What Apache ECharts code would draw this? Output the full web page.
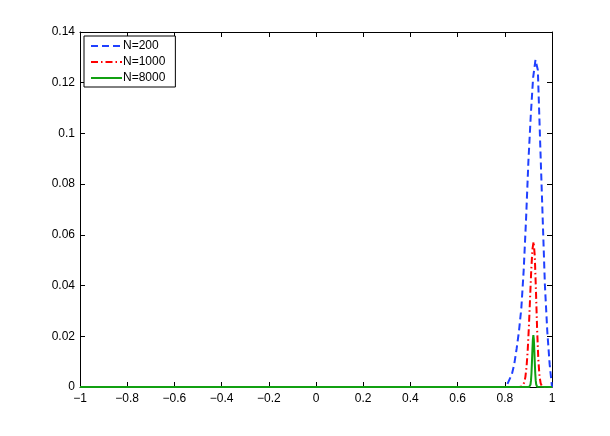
<!DOCTYPE html>
<html>
<head>
<meta charset="utf-8">
<script src="https://cdn.jsdelivr.net/npm/echarts@6/dist/echarts.min.js"></script>
<style>html,body{margin:0;padding:0;background:#fff}#c{width:610px;height:436px}</style>
</head>
<body>
<div id="c"></div>
<script>
const seriesNames = ['N=200', 'N=1000', 'N=8000'];
const xTicks = [-1, -0.8, -0.6, -0.4, -0.2, 0, 0.2, 0.4, 0.6, 0.8, 1];
const yTicks = [0, 0.02, 0.04, 0.06, 0.08, 0.1, 0.12, 0.14];

const blueX = [-1, 0.80, 0.81, 0.82, 0.83, 0.84, 0.85, 0.86, 0.87, 0.88, 0.89, 0.90, 0.91, 0.92, 0.93, 0.94, 0.95, 0.96, 0.97, 0.98, 0.99, 1.00];
const blueY = [0, 0.000, 0.001, 0.003, 0.005, 0.009, 0.015, 0.022, 0.031, 0.046, 0.066, 0.089, 0.107, 0.122, 0.129, 0.125, 0.096, 0.068, 0.040, 0.022, 0.009, 0.000];

const redX = [-1, 0.862, 0.867, 0.872, 0.877, 0.882, 0.887, 0.892, 0.897, 0.902, 0.907, 0.912, 0.917, 0.922, 0.927, 0.932, 0.937, 0.942, 0.947, 0.952, 0.957, 0.962, 0.967, 1];
const redY = [0, 0, 0.0001, 0.0002, 0.0006, 0.0017, 0.0038, 0.0078, 0.0143, 0.0236, 0.0348, 0.0459, 0.0542, 0.0573, 0.0517, 0.0379, 0.0226, 0.0110, 0.0043, 0.0014, 0.0004, 0.0001, 0, 0];

const greenX = [-1, 0.903, 0.905, 0.907, 0.909, 0.911, 0.913, 0.915, 0.917, 0.919, 0.921, 0.923, 0.925, 0.927, 0.929, 0.931, 0.933, 0.935, 0.937, 0.939, 1];
const greenY = [0, 0, 0.0001, 0.0004, 0.0010, 0.0026, 0.0054, 0.0097, 0.0147, 0.0189, 0.0205, 0.0189, 0.0147, 0.0097, 0.0054, 0.0026, 0.0010, 0.0004, 0.0001, 0, 0];

const zip = (xs, ys) => xs.map((x, i) => [x, ys[i]]);
const font = "'Liberation Sans', Arial, Helvetica, sans-serif";
const fmtX = v => (Math.abs(v) < 1e-9 ? '0' : String(+v.toFixed(1)).replace('-', '\u2212'));
const fmtY = v => (Math.abs(v) < 1e-9 ? '0' : String(+v.toFixed(2)));

const baseAxis = {
  axisLine: { show: true, onZero: false, lineStyle: { color: '#000', width: 1 } },
  axisTick: { show: true, inside: true, length: 5, lineStyle: { color: '#000', width: 1 } },
  splitLine: { show: false },
  minorTick: { show: false }
};

const colors = ['#2040ff', '#ff0000', '#11a011'];
const dashes = [[7, 4], [7, 3, 1.5, 3], 'solid'];

const chart = echarts.init(document.getElementById('c'), null, { renderer: 'canvas' });
chart.setOption({
  animation: false,
  backgroundColor: '#fff',
  grid: { left: 80, right: 58, top: 32, bottom: 49, show: false },
  legend: {
    orient: 'vertical', left: 84, top: 36,
    data: seriesNames,
    backgroundColor: '#fff', borderColor: '#000', borderWidth: 1,
    padding: [4, 10, 3, 6], itemGap: 4, itemWidth: 31, itemHeight: 12,
    itemStyle: { opacity: 0 },
    textStyle: { fontFamily: font, fontSize: 12, color: '#000', padding: [0, 0, 0, -4] }
  },
  xAxis: [
    Object.assign({}, baseAxis, {
      type: 'value', min: -1, max: 1, interval: 0.2, position: 'bottom',
      axisLabel: { show: true, margin: 6, fontFamily: font, fontSize: 12, color: '#000', formatter: fmtX }
    }),
    Object.assign({}, baseAxis, {
      type: 'value', min: -1, max: 1, interval: 0.2, position: 'top',
      axisLabel: { show: false }
    })
  ],
  yAxis: [
    Object.assign({}, baseAxis, {
      type: 'value', min: 0, max: 0.14, interval: 0.02, position: 'left',
      axisLabel: { show: true, margin: 5, fontFamily: font, fontSize: 12, color: '#000', formatter: fmtY }
    }),
    Object.assign({}, baseAxis, {
      type: 'value', min: 0, max: 0.14, interval: 0.02, position: 'right',
      axisLabel: { show: false }
    })
  ],
  series: seriesNames.map((n, i) => ({
    name: n, type: 'line',
    data: [zip(blueX, blueY), zip(redX, redY), zip(greenX, greenY)][i],
    showSymbol: false, symbol: 'none',
    lineStyle: { color: colors[i], width: 2, type: dashes[i] },
    itemStyle: { color: colors[i] }
  }))
});
</script>
</body>
</html>
